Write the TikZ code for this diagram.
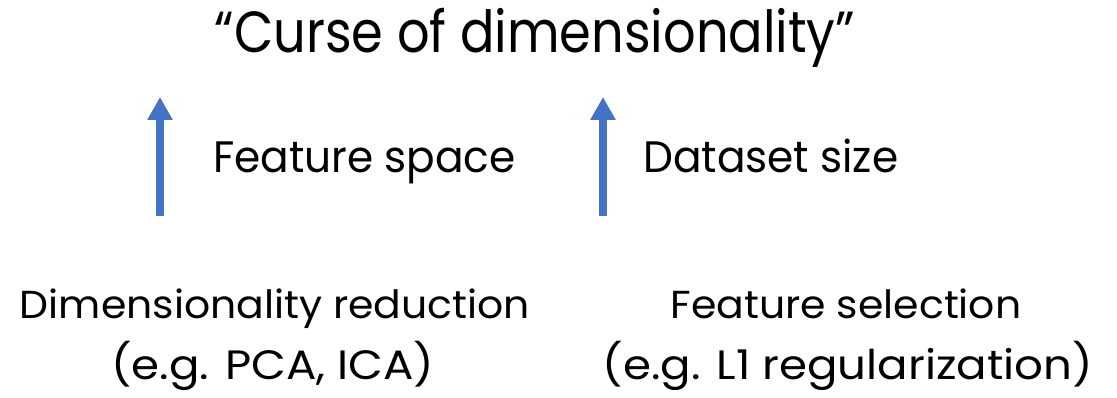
\documentclass[tikz,border=0pt]{standalone}
\usepackage{fontspec}
\setmainfont{Poppins}
\newfontfamily\titlefont[FakeStretch=0.88]{Poppins}
\newfontfamily\midfont[FakeStretch=0.96]{Poppins}
\newfontfamily\lowfont[FakeStretch=1.05]{Poppins}
\newfontfamily\lowfontb[FakeStretch=1.1]{Poppins}
\usetikzlibrary{arrows.meta}
\definecolor{arrowblue}{HTML}{4472C4}
\tikzset{
  txt/.style={inner sep=0pt, text=black},
  titletxt/.style={txt, anchor=base, font=\titlefont\fontsize{58}{70}\selectfont},
  midtxt/.style={txt, anchor=base west, font=\midfont\fontsize{44}{52}\selectfont},
  lowtxt/.style={txt, anchor=base, font=\lowfont\fontsize{39}{47}\selectfont},
  lowtxtb/.style={txt, anchor=base, font=\lowfontb\fontsize{41}{49}\selectfont},
  uparrow/.style={draw=arrowblue, line width=8pt, -{Triangle[width=24pt,length=23pt]}}
}
\begin{document}
\begin{tikzpicture}[x=1pt,y=1pt]
\useasboundingbox (0,0) rectangle (1117,398);
\node[titletxt] (title) at (535,345) {“Curse of dimensionality”};
\coordinate (a1b) at (160,182);
\coordinate (a1t) at (160,301);
\coordinate (a2b) at (603,182);
\coordinate (a2t) at (603,301);
\draw[uparrow] (a1b) -- (a1t);
\draw[uparrow] (a2b) -- (a2t);
\node[midtxt] (fs) at (213,225) {Feature space};
\node[midtxt] (ds) at (643,225) {Dataset size};
\node[lowtxt] (dr1) at (275,79) {Dimensionality reduction};
\node[lowtxtb] (dr2) at (273,18) {(e.g. PCA, ICA)};
\node[lowtxt] (fsel1) at (846,79) {Feature selection};
\node[lowtxtb] (fsel2) at (848,18) {(e.g. L1 regularization)};
\end{tikzpicture}
\end{document}
